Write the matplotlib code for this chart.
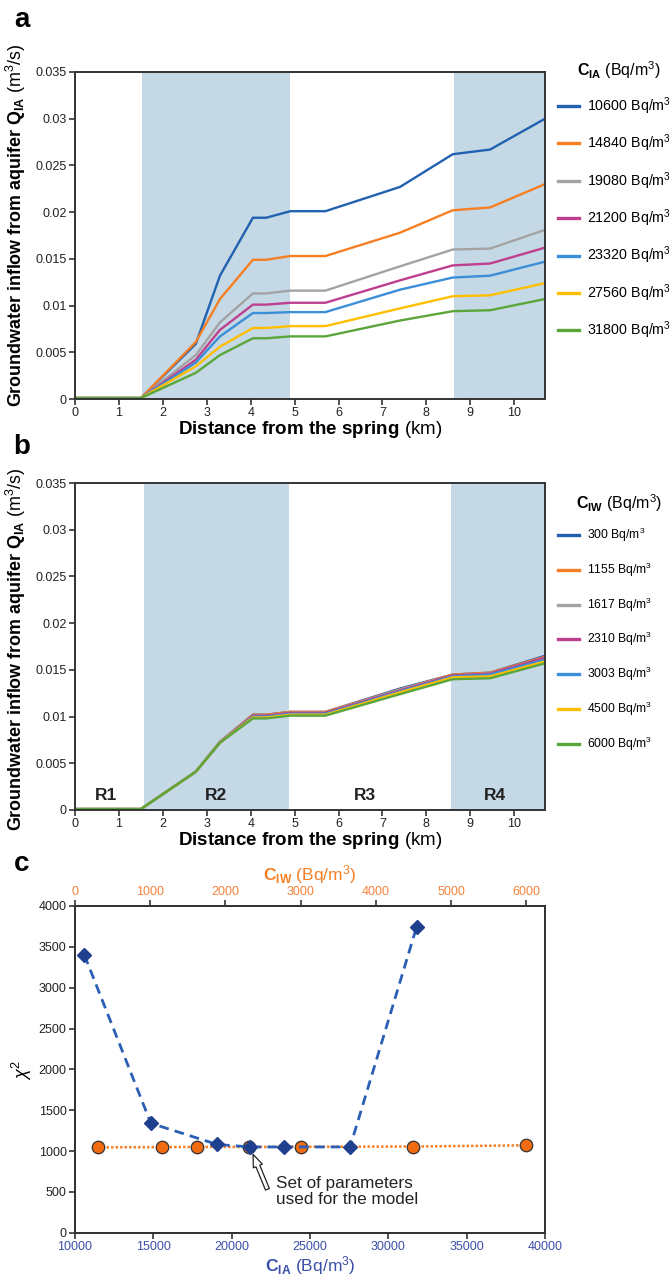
import matplotlib
matplotlib.use("Agg")
import matplotlib.pyplot as plt
from matplotlib.lines import Line2D

plt.rcParams['font.family'] = ['Liberation Sans', 'DejaVu Sans']
plt.rcParams['mathtext.fontset'] = 'custom'
plt.rcParams['mathtext.rm'] = 'Liberation Sans'
plt.rcParams['mathtext.bf'] = 'Liberation Sans:bold'
plt.rcParams['mathtext.it'] = 'Liberation Sans:italic'

# ---------------- data ----------------
distance_km = [0, 1.5, 2.75, 3.3, 4.05, 4.35, 4.9, 5.7, 7.4, 8.6, 9.45, 10.7]

cia_labels = ["10600", "14840", "19080", "21200", "23320", "27560", "31800"]
qa_10600 = [0.0001, 0.0001, 0.0059, 0.0132, 0.0194, 0.0194, 0.0201, 0.0201, 0.0227, 0.0262, 0.0267, 0.0300]
qa_14840 = [0.0001, 0.0001, 0.0061, 0.0107, 0.0149, 0.0149, 0.0153, 0.0153, 0.0178, 0.0202, 0.0205, 0.0230]
qa_19080 = [0.0001, 0.0001, 0.0047, 0.0082, 0.0113, 0.0113, 0.0116, 0.0116, 0.0142, 0.0160, 0.0161, 0.0181]
qa_21200 = [0.0001, 0.0001, 0.0042, 0.0074, 0.0101, 0.0101, 0.0103, 0.0103, 0.0127, 0.0143, 0.0145, 0.0162]
qa_23320 = [0.0001, 0.0001, 0.0039, 0.0067, 0.0092, 0.0092, 0.0093, 0.0093, 0.0117, 0.0130, 0.0132, 0.0147]
qa_27560 = [0.0001, 0.0001, 0.0035, 0.0056, 0.0076, 0.0076, 0.0078, 0.0078, 0.0097, 0.0110, 0.0111, 0.0124]
qa_31800 = [0.0001, 0.0001, 0.0028, 0.0047, 0.0065, 0.0065, 0.0067, 0.0067, 0.0084, 0.0094, 0.0095, 0.0107]
series_a = [qa_10600, qa_14840, qa_19080, qa_21200, qa_23320, qa_27560, qa_31800]

ciw_labels = ["300", "1155", "1617", "2310", "3003", "4500", "6000"]
qb_300 = [0.0001, 0.0001, 0.0041, 0.0073, 0.0102, 0.0102, 0.0105, 0.0105, 0.0130, 0.0145, 0.0147, 0.0165]
qb_1155 = [0.0001, 0.0001, 0.0041, 0.0073, 0.0102, 0.0102, 0.0105, 0.0105, 0.0129, 0.0145, 0.0147, 0.0164]
qb_1617 = [0.0001, 0.0001, 0.0041, 0.0073, 0.0101, 0.0101, 0.0104, 0.0104, 0.0129, 0.0144, 0.0146, 0.0163]
qb_2310 = [0.0001, 0.0001, 0.0041, 0.0072, 0.0101, 0.0101, 0.0104, 0.0104, 0.0128, 0.0144, 0.0146, 0.0163]
qb_3003 = [0.0001, 0.0001, 0.0041, 0.0072, 0.0100, 0.0100, 0.0103, 0.0103, 0.0127, 0.0143, 0.0145, 0.0161]
qb_4500 = [0.0001, 0.0001, 0.0041, 0.0072, 0.0099, 0.0099, 0.0102, 0.0102, 0.0126, 0.0142, 0.0143, 0.0159]
qb_6000 = [0.0001, 0.0001, 0.0041, 0.0072, 0.0098, 0.0098, 0.0101, 0.0101, 0.0124, 0.0140, 0.0141, 0.0157]
series_b = [qb_300, qb_1155, qb_1617, qb_2310, qb_3003, qb_4500, qb_6000]

cia_values = [10600, 14840, 19080, 21200, 23320, 27560, 31800]
chi2_cia = [3400, 1340, 1080, 1050, 1050, 1050, 3740]
ciw_values = [300, 1155, 1617, 2310, 3003, 4500, 6000]
chi2_ciw = [1045, 1048, 1050, 1050, 1052, 1055, 1070]

x_ticks = list(range(0, 11))
y_ticks_q = [0, 0.005, 0.01, 0.015, 0.02, 0.025, 0.03, 0.035]
y_ticklabels_q = ["0", "0.005", "0.01", "0.015", "0.02", "0.025", "0.03", "0.035"]
chi_ticks = [0, 500, 1000, 1500, 2000, 2500, 3000, 3500, 4000]
cia_ticks = [10000, 15000, 20000, 25000, 30000, 35000, 40000]
ciw_ticks = [0, 1000, 2000, 3000, 4000, 5000, 6000]

regions_a = [(1.52, 4.9), (8.62, 10.7)]
regions_b = [(1.56, 4.87), (8.55, 10.7)]
region_names = ["R1", "R2", "R3", "R4"]
region_label_x = [0.7, 3.2, 6.6, 9.55]

colors = ["#2161b0", "#f57f22", "#a3a3a3", "#bf3f8f", "#3b8fd8", "#ffbf00", "#5ba63b"]
shade = "#c5d8e5"
spine_col = "#333333"

W, H = 671, 1281
fig = plt.figure(figsize=(W / 100, H / 100), dpi=100)


def fx(px):
    return px / W


def fy(py):
    return 1 - py / H


def style_axes(ax):
    for s in ax.spines.values():
        s.set_color(spine_col)
        s.set_linewidth(1.4)
    ax.tick_params(direction='out', length=4, width=1.2, color=spine_col,
                   labelsize=9, labelcolor="#222222", pad=2)


def q_panel(top_px, bot_px, series, regions, leg_title, leg_labels, leg_title_y,
            leg_y0, leg_dy, leg_fs, label_y):
    ax = fig.add_axes([fx(75), fy(bot_px), fx(545 - 75), (bot_px - top_px) / H])
    for (a0, a1) in regions:
        ax.axvspan(a0, a1, color=shade, lw=0, zorder=0)
    for s, c in zip(series, colors):
        ax.plot(distance_km, s, color=c, lw=1.7, solid_joinstyle='miter', zorder=2)
    ax.set_xlim(0, 10.7)
    ax.set_ylim(0, 0.035)
    ax.set_xticks(x_ticks)
    ax.set_yticks(y_ticks_q)
    ax.set_yticklabels(y_ticklabels_q)
    style_axes(ax)
    ax.set_xlabel(r"$\bf{Distance\ from\ the\ spring}$ (km)", fontsize=13.5, labelpad=0)
    ax.set_ylabel(r"$\bf{Groundwater\ inflow\ from\ aquifer\ Q_{IA}}$ (m$^3$/s)",
                  fontsize=12.9)
    ax.yaxis.set_label_coords(-0.1, label_y)
    # legend
    fig.text(fx(619), fy(leg_title_y), leg_title, fontsize=11.5, ha='center', va='center')
    for i, (lab, c) in enumerate(zip(leg_labels, colors)):
        yy = fy(leg_y0 + i * leg_dy)
        fig.add_artist(Line2D([fx(558), fx(579)], [yy, yy], color=c, lw=2.4))
        fig.text(fx(587), yy, lab + r" Bq/m$^3$", fontsize=leg_fs, ha='left', va='center')
    return ax


ax_a = q_panel(72, 399, series_a, regions_a, r"$\bf{C_{IA}}$ (Bq/m$^3$)", cia_labels,
               70, 106, 37.4, 10.3, 0.53)
ax_b = q_panel(483, 810, series_b, regions_b, r"$\bf{C_{IW}}$ (Bq/m$^3$)", ciw_labels,
               503, 535, 34.8, 8.7, 0.49)
for name, xx in zip(region_names, region_label_x):
    ax_b.text(xx, 0.0008, name, fontsize=12.5, fontweight='bold', ha='center',
              va='bottom', color="#222222")

fig.text(fx(22), fy(20), "a", fontsize=20, fontweight='bold', ha='center', va='center')
fig.text(fx(22), fy(447), "b", fontsize=20, fontweight='bold', ha='center', va='center')
fig.text(fx(22), fy(864), "c", fontsize=20, fontweight='bold', ha='center', va='center')

# ---------------- panel c ----------------
ax_c = fig.add_axes([fx(75), fy(1232.7), fx(545 - 75), (1232.7 - 906) / H])
ax_t = ax_c.twiny()
ax_t.plot(ciw_values, chi2_ciw, color="#f57f22", lw=1.8, ls=(0, (1, 0.8)), zorder=2)
ax_t.plot(ciw_values, chi2_ciw, ls='none', marker='o', ms=9, mfc="#f06a10",
          mec="#333333", mew=0.9, zorder=3)
ax_c.plot(cia_values, chi2_cia, color="#2a5fb5", lw=2.0, ls=(0, (3.5, 2.2)), zorder=2)
ax_c.plot(cia_values, chi2_cia, ls='none', marker='D', ms=7, mfc="#1f3f8f",
          mec="#1f3f8f", zorder=3)
ax_c.set_zorder(ax_t.get_zorder() + 1)
ax_c.patch.set_visible(False)

ax_c.set_xlim(10000, 40000)
ax_c.set_ylim(0, 4000)
ax_t.set_xlim(0, 6250)
ax_t.set_ylim(0, 4000)
ax_c.set_xticks(cia_ticks)
ax_c.set_yticks(chi_ticks)
ax_t.set_xticks(ciw_ticks)
style_axes(ax_c)
style_axes(ax_t)
ax_c.tick_params(axis='x', labelcolor="#3a4fa8")
ax_t.tick_params(axis='x', labelcolor="#f5833a")
ax_c.set_xlabel(r"$\bf{C_{IA}}$ (Bq/m$^3$)", color="#3a4fa8", fontsize=12.5, labelpad=1)
ax_t.set_xlabel(r"$\bf{C_{IW}}$ (Bq/m$^3$)", color="#f57f22", fontsize=12.5, labelpad=4)
ax_c.set_ylabel(r"$\chi^2$", fontsize=13)
ax_c.yaxis.set_label_coords(-0.088, 0.5)

ax_c.annotate("", xy=(21300, 990), xytext=(22350, 500),
              arrowprops=dict(arrowstyle="simple,head_length=0.9,head_width=0.7,tail_width=0.3",
                              fc="white", ec="#222222", lw=0.9))
ax_c.text(22850, 500, "Set of parameters\nused for the model", fontsize=12.3,
          ha='left', va='center', color="#222222", linespacing=1.1)

fig.savefig("out.png", dpi=100)
